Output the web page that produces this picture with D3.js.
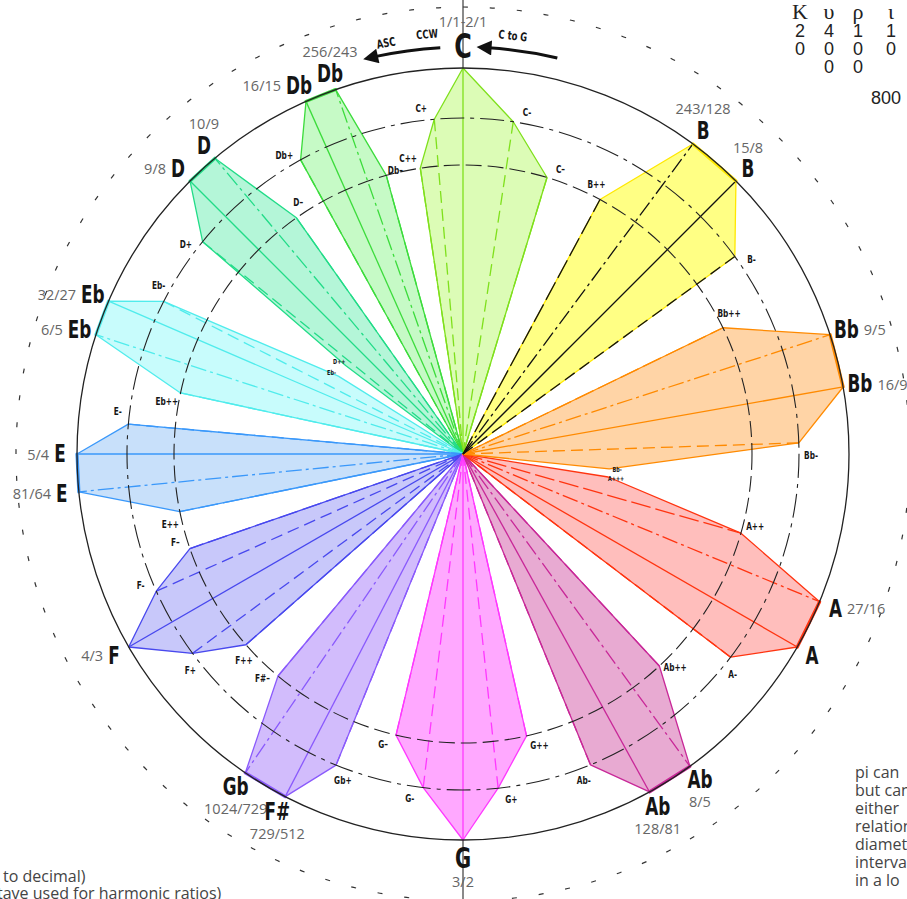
<!DOCTYPE html>
<html>
<head>
<meta charset="utf-8">
<style>
body { margin:0; background:#fff; }
svg { display:block; }
</style>
</head>
<body>
<div id="chart"></div>
<script src="https://d3js.org/d3.v7.min.js"></script>
<script>

// petals, counter-clockwise from C at the top
var notes = ["C","Db","D","Eb","E","F","Gb","G","Ab","A","Bb","B"];
var tipNames = [["C"],["Db","Db"],["D","D"],["Eb","Eb"],["E","E"],["F"],["Gb","F#"],["G"],["Ab","Ab"],["A","A"],["Bb","Bb"],["B","B"]];
var tipRatios = [["1/1"],["256/243","16/15"],["10/9","9/8"],["32/27","6/5"],["5/4","81/64"],["4/3"],["1024/729","729/512"],["3/2"],["128/81","8/5"],["5/3","27/16"],["16/9","9/5"],["15/8","243/128"]];
var tipCaptions = [["1/1-2/1"],["256/243","16/15"],["10/9","9/8"],["32/27","6/5"],["5/4","81/64"],["4/3"],["1024/729","729/512"],["3/2"],["128/81","8/5"],["","27/16"],["16/9","9/5"],["15/8","243/128"]];
var solidTip = ["1/1","16/15","9/8","32/27","5/4","4/3","729/512","3/2","128/81","5/3","16/9","15/8"];

// comma shifted points: [label, degrees ccw from top, ring]  ring 1 = outer dashed circle, 2 = inner dashed circle, 3 = near centre
var commaPoints = [
  [["C–",-16.9,2],["C-",-8.6,1],["C+",4.9,1],["C++",8.5,2]],
  [["Db–",15.4,2],["Db+",28.9,1]],
  [["D–",35.2,2],["D+",50.8,1],["D++",53,3]],
  [["Eb-",58,3],["Eb-",63,1],["Eb++",77.8,2]],
  [["E-",84.9,1],["E++",101.5,2]],
  [["F–",109.1,2],["F-",114.1,1],["F+",126.4,1],["F++",131.3,2]],
  [["F#–",140.2,2],["Gb+",157.8,1]],
  [["G–",166.6,2],["G-",173.2,1],["G+",186,1],["G++",192.7,2]],
  [["Ab-",202.3,1],["Ab++",222.8,2]],
  [["A-",232.8,1],["A++",254.1,2],["A+++",261,3]],
  [["Bb-",264.2,3],["Bb-",271.9,1],["Bb++",295.9,2]],
  [["B-",306,1],["B++",331.7,2]]
];

// colours (style, not data)
var petalStroke = ["#7fe01c","#3cdc3c","#22dc88","#50ecec","#3a98fa","#4848ee","#8a5afc","#ff38ff","#c82898","#ff3410","#ff8a00","#ffe800"];
var petalFill   = ["#dcfcb6","#c6fac6","#b4f6d8","#c8fcfc","#c8e0fa","#c8c8fa","#d2bcfc","#ffa8ff","#e8aad2","#ffbebc","#ffd4a6","#ffff84"];
var spokeColor  = ["#7fe01c","#3cdc3c","#22dc88","#50ecec","#3a98fa","#4848ee","#8a5afc","#ff38ff","#c82898","#ff3410","#ff8a00","#111111"];

// side texts
var greekHead = ["Κ","υ","ρ","ι"];
var digitRows = [["2","4","1","1"],["0","0","0","0"],["","0","0",""]];
var cornerNumber = "800";
var noteLeft = ["to decimal)","tave used for harmonic ratios)"];
var noteRight = ["pi can","but can","either","relation","diameter","interval","in a lo"];

var W = 907, H = 899;
var cx = 463, cy = 454;
var R = 386;
var ring = d3.scaleOrdinal().domain([0,1,2,3]).range([R, 336, 289, 147]);
var angle = d3.scaleLinear().domain([1,2]).range([0,360]);   // ratio -> degrees ccw

var noteFont = "'Liberation Sans Narrow','DejaVu Sans Condensed','Roboto Condensed','Arial Narrow','DejaVu Sans',sans-serif";
var handFont = "'Open Sans','Lato',sans-serif";
var squeeze = 0.78;   // no condensed face installed, so narrow the bold letters by hand

function ratioVal(s) { var p = s.split("/"); return +p[0] / +p[1]; }
function polar(deg, r) { return d3.pointRadial(-deg * Math.PI / 180, r); }

// bold, narrowed label centred on x,y
function boldText(parent, s, x, y, size, rot) {
  return parent.append("text")
     .text(s)
     .attr("transform","translate(" + x + "," + y + ")" + (rot ? " rotate(" + rot + ")" : "") + " scale(" + squeeze + ",1)")
     .style("font-family", noteFont)
     .style("font-weight","bold")
     .style("font-size", size + "px")
     .style("fill","#151515")
     .style("text-anchor","middle")
     .style("dominant-baseline","central");
}

var svg = d3.select("#chart").append("svg")
   .attr("width", W)
   .attr("height", H);

var defs = svg.append("defs");
defs.append("marker")
   .attr("id","head")
   .attr("viewBox","0 0 10 10")
   .attr("refX",2).attr("refY",5)
   .attr("markerWidth",6).attr("markerHeight",5)
   .attr("orient","auto")
   .append("path")
   .attr("d","M0,0 L10,5 L0,10 Z")
   .style("fill","#111");

// grey axis through C and G
svg.append("line").attr("x1",cx).attr("x2",cx).attr("y1",0).attr("y2",cy-R)
   .style("stroke","#8a8a8a").style("stroke-width",2);
svg.append("line").attr("x1",cx).attr("x2",cx).attr("y1",cy+R).attr("y2",H)
   .style("stroke","#8a8a8a").style("stroke-width",2);

var g = svg.append("g").attr("transform","translate(" + cx + "," + cy + ")");

// build the petals
var petals = notes.map(function(n, i) {
  var pts = tipRatios[i].map(function(s, j) {
    return { label: tipNames[i][j], caption: tipCaptions[i][j], deg: angle(ratioVal(s)), ring: 0, tip: true, solid: s === solidTip[i] };
  });
  var mid = d3.mean(pts, function(p) { return p.deg; });
  commaPoints[i].forEach(function(c) {
    pts.push({ label: c[0], deg: c[1], ring: c[2], tip: false });
  });
  pts.sort(function(a, b) { return a.deg - b.deg; });
  pts.forEach(function(p) { p.xy = polar(p.deg, ring(p.ring)); p.side = p.deg > mid ? 1 : -1; });
  return { note: n, i: i, pts: pts, mid: mid };
});

var line = d3.line();

var petalG = g.selectAll("g.petal").data(petals).enter().append("g").attr("class","petal");

petalG.append("path")
   .attr("d", function(d) { return line([[0,0]].concat(d.pts.map(function(p) { return p.xy; }))) + "Z"; })
   .style("fill", function(d) { return petalFill[d.i]; })
   .style("stroke", function(d) { return petalStroke[d.i]; })
   .style("stroke-width", 1.3)
   .style("stroke-linejoin","round");

// spokes from the centre to every point
petalG.each(function(d) {
  var sel = d3.select(this);
  d.pts.filter(function(p) { return p.ring < 3; }).forEach(function(p) {
    var dash = p.tip ? (p.solid ? null : "16,4,3,4") : (p.ring === 1 ? "12,6" : "20,5");
    sel.append("line")
       .attr("x1",0).attr("y1",0)
       .attr("x2",p.xy[0]).attr("y2",p.xy[1])
       .style("stroke", spokeColor[d.i])
       .style("stroke-width", 1.3)
       .style("stroke-dasharray", dash);
  });
  // heavy edge between the two tips
  var tips = d.pts.filter(function(p) { return p.tip; });
  if (tips.length === 2) {
    sel.append("line")
       .attr("x1",tips[0].xy[0]).attr("y1",tips[0].xy[1])
       .attr("x2",tips[1].xy[0]).attr("y2",tips[1].xy[1])
       .style("stroke", petalStroke[d.i])
       .style("stroke-width", 3.2)
       .style("stroke-linecap","round");
  }
});

// circles
g.append("circle").attr("r", ring(1))
   .style("fill","none").style("stroke","#222").style("stroke-width",1.1)
   .style("stroke-dasharray","24,6,4,6");
g.append("circle").attr("r", ring(2))
   .style("fill","none").style("stroke","#222").style("stroke-width",1.1)
   .style("stroke-dasharray","16,6");
g.append("circle").attr("r", R)
   .style("fill","none").style("stroke","#222").style("stroke-width",1.3);
g.append("circle").attr("r", 447)
   .style("fill","none").style("stroke","#333").style("stroke-width",1.2)
   .style("stroke-dasharray","5,22");

// comma point labels, pulled inward when they would sit on an earlier one
var placed = [];
function hits(x, y, w, h) {
  return placed.some(function(b) { return Math.abs(b.x - x) < (b.w + w) / 2 && Math.abs(b.y - y) < (b.h + h) / 2; });
}
petals.forEach(function(d) {
  d.pts.filter(function(p) { return !p.tip; }).forEach(function(p) {
    var fs = p.ring === 3 ? 7 : 10.5;
    var a = p.ring === 3 ? p.deg : p.deg + p.side * 2;
    var r = ring(p.ring) + (p.ring === 3 ? 8 : 12);
    var t = boldText(g, p.label, 0, 0, fs);
    var w = t.node().getComputedTextLength() * squeeze;
    var xy = polar(a, r);
    if (hits(xy[0], xy[1], w, fs)) { xy = polar(a, r - 9); }
    t.attr("transform","translate(" + xy[0] + "," + xy[1] + ") scale(" + squeeze + ",1)");
    placed.push({ x: xy[0], y: xy[1], w: w, h: fs });
  });
});

// tip labels : note name, then ratio caption beside it
var dirs = [[0,-1],[-1,0],[0,1],[1,0]];
petals.forEach(function(d) {
  var tips = d.pts.filter(function(p) { return p.tip; });
  var boxes = tips.map(function(p) {
    var fs = p.label === "C" ? 34 : (p.label === "G" ? 28 : 24);
    var xy = polar(p.deg, R + 7 + 0.42 * fs);
    var t = boldText(g, p.label, xy[0], xy[1], fs);
    var c = g.append("text")
       .text(p.caption)
       .style("font-family", handFont)
       .style("font-size","14.5px")
       .style("fill","#666")
       .style("text-anchor","middle")
       .style("dominant-baseline","central");
    var k = ((Math.round(p.deg / 90) % 4) + 4) % 4;
    return { p: p, xy: xy, fs: fs, nw: t.node().getComputedTextLength() * squeeze, cw: c.node().getComputedTextLength(), node: c, k: k };
  });
  function place(b) {
    var dv = dirs[b.k];
    var dist = dv[0] !== 0 ? b.nw / 2 + 5 + b.cw / 2 : 0.36 * b.fs + 8 + 5;
    b.cx = b.xy[0] + dv[0] * dist;
    b.cy = b.xy[1] + dv[1] * dist;
  }
  boxes.forEach(place);
  if (boxes.length === 2 && boxes[0].p.caption && boxes[1].p.caption) {
    var a = boxes[0], b = boxes[1];
    var ox = Math.abs(a.cx - b.cx) < (a.cw + b.cw) / 2 + 2;
    var oy = Math.abs(a.cy - b.cy) < 16;
    if (ox && oy) {
      // move the one lying further from its axis one quarter turn away from its partner
      var offA = Math.abs(a.p.deg - a.k * 90), offB = Math.abs(b.p.deg - b.k * 90);
      if (offB >= offA) { b.k = (b.k + 1) % 4; place(b); }
      else { a.k = (a.k + 3) % 4; place(a); }
    }
  }
  boxes.forEach(function(b) { b.node.attr("x", b.cx).attr("y", b.cy); });
});

// direction arrows above C
function arcPath(d0, d1, r) {
  var p = d3.path();
  var s = (-90 - d0) * Math.PI / 180, e = (-90 - d1) * Math.PI / 180;
  p.arc(0, 0, r, s, e, d1 > d0);
  return p.toString();
}
g.append("path").attr("d", arcPath(3.2, 12.5, 407))
   .style("fill","none").style("stroke","#111").style("stroke-width",3)
   .attr("marker-end","url(#head)");
g.append("path").attr("d", arcPath(-13.4, -3.6, 407))
   .style("fill","none").style("stroke","#111").style("stroke-width",3)
   .attr("marker-end","url(#head)");

[["ASC",10.6,418],["CCW",4.9,421],["C to G",-6.8,421]].forEach(function(a) {
  var xy = polar(a[1], a[2]);
  boldText(g, a[0], xy[0], xy[1], 12, -a[1]);
});

// corner block, top right
var colX = [800, 829, 858, 891];
greekHead.forEach(function(s, j) {
  svg.append("text").text(s)
     .attr("x", colX[j]).attr("y", 19)
     .style("font-family","'Liberation Serif','DejaVu Serif',serif")
     .style("font-size","22px")
     .style("fill","#222")
     .style("text-anchor","middle");
});
digitRows.forEach(function(row, r) {
  row.forEach(function(s, j) {
    svg.append("text").text(s)
       .attr("x", colX[j]).attr("y", 37 + r * 18)
       .style("font-family","'Liberation Sans',Arial,sans-serif")
       .style("font-size","18px")
       .style("fill","#222")
       .style("text-anchor","middle");
  });
});
svg.append("text").text(cornerNumber)
   .attr("x", 886).attr("y", 104)
   .style("font-family","'Liberation Sans',Arial,sans-serif")
   .style("font-size","18px")
   .style("fill","#222")
   .style("text-anchor","middle");

// notes, bottom left and bottom right
noteLeft.forEach(function(s, j) {
  svg.append("text").text(s)
     .attr("x", j === 0 ? 3 : -3).attr("y", 882 + j * 17)
     .style("font-family", handFont)
     .style("font-size","16px")
     .style("fill","#444");
});
noteRight.forEach(function(s, j) {
  svg.append("text").text(s)
     .attr("x", 855).attr("y", 778 + j * 18)
     .style("font-family", handFont)
     .style("font-size","16px")
     .style("fill","#444");
});

</script>
</body>
</html>
